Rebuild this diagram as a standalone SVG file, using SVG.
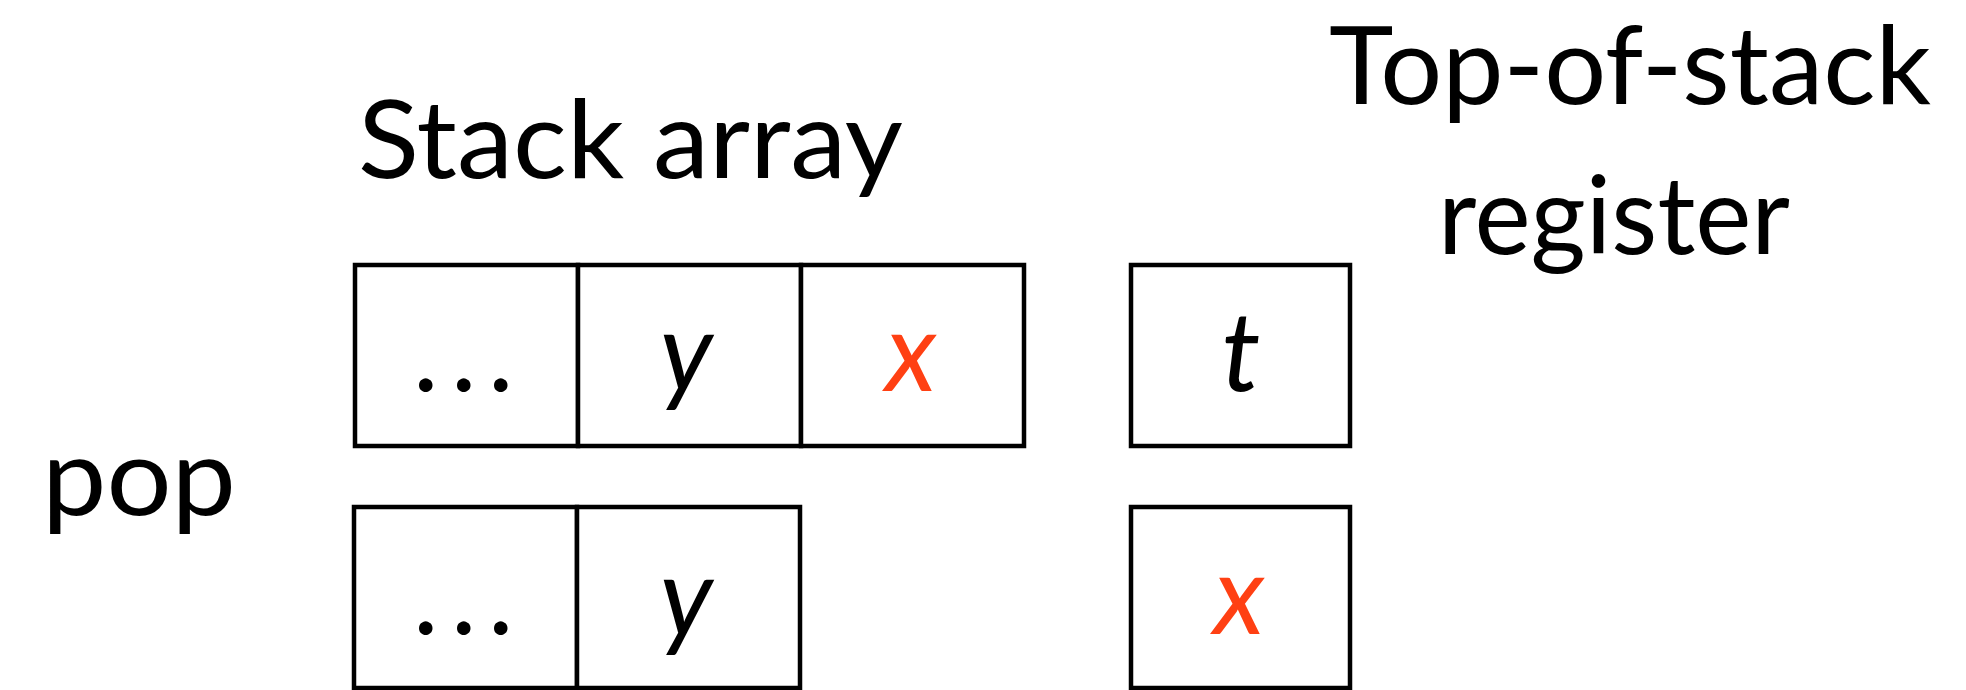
<svg xmlns="http://www.w3.org/2000/svg" width="1966" height="690" viewBox="0 0 1966 690">
<style>
.cell{fill:#fff;stroke:#000;stroke-width:4.5}
.lbl{font-family:Lato,"Noto Sans",sans-serif;font-size:108px;fill:#000}
.v{font-family:Lato,"Noto Sans",sans-serif;font-size:110px;font-style:italic;text-anchor:middle;fill:#000}
.red{fill:#FF4013}
</style>
<rect width="1966" height="690" fill="#fff"/>
<g id="labels">
<text class="lbl" x="358" y="178" textLength="545" lengthAdjust="spacingAndGlyphs">Stack array</text>
<text class="lbl" x="1329" y="104" textLength="602" lengthAdjust="spacingAndGlyphs">Top-of-stack</text>
<text class="lbl" x="1438" y="254" textLength="352" lengthAdjust="spacingAndGlyphs">register</text>
<text class="lbl" x="42" y="515" textLength="194" lengthAdjust="spacingAndGlyphs">pop</text>
</g>
<g id="stack-row1">
<rect class="cell" x="355" y="265" width="223" height="181"/>
<rect class="cell" x="578" y="265" width="223" height="181"/>
<rect class="cell" x="801" y="265" width="223" height="181"/>
<text class="lbl" x="413 451 488" y="391">...</text>
<text class="v" x="686" y="391">y</text>
<text class="v red" x="911" y="391">x</text>
</g>
<g id="register-row1">
<rect class="cell" x="1131" y="265" width="219" height="181"/>
<text class="v" x="1241" y="391">t</text>
</g>
<g id="stack-row2">
<rect class="cell" x="354" y="507" width="223" height="181"/>
<rect class="cell" x="577" y="507" width="223" height="181"/>
<text class="lbl" x="413 451 488" y="634">...</text>
<text class="v" x="686" y="636">y</text>
</g>
<g id="register-row2">
<rect class="cell" x="1131" y="507" width="219" height="181"/>
<text class="v red" x="1239" y="634">x</text>
</g>
<g id="connectors"></g>
</svg>
